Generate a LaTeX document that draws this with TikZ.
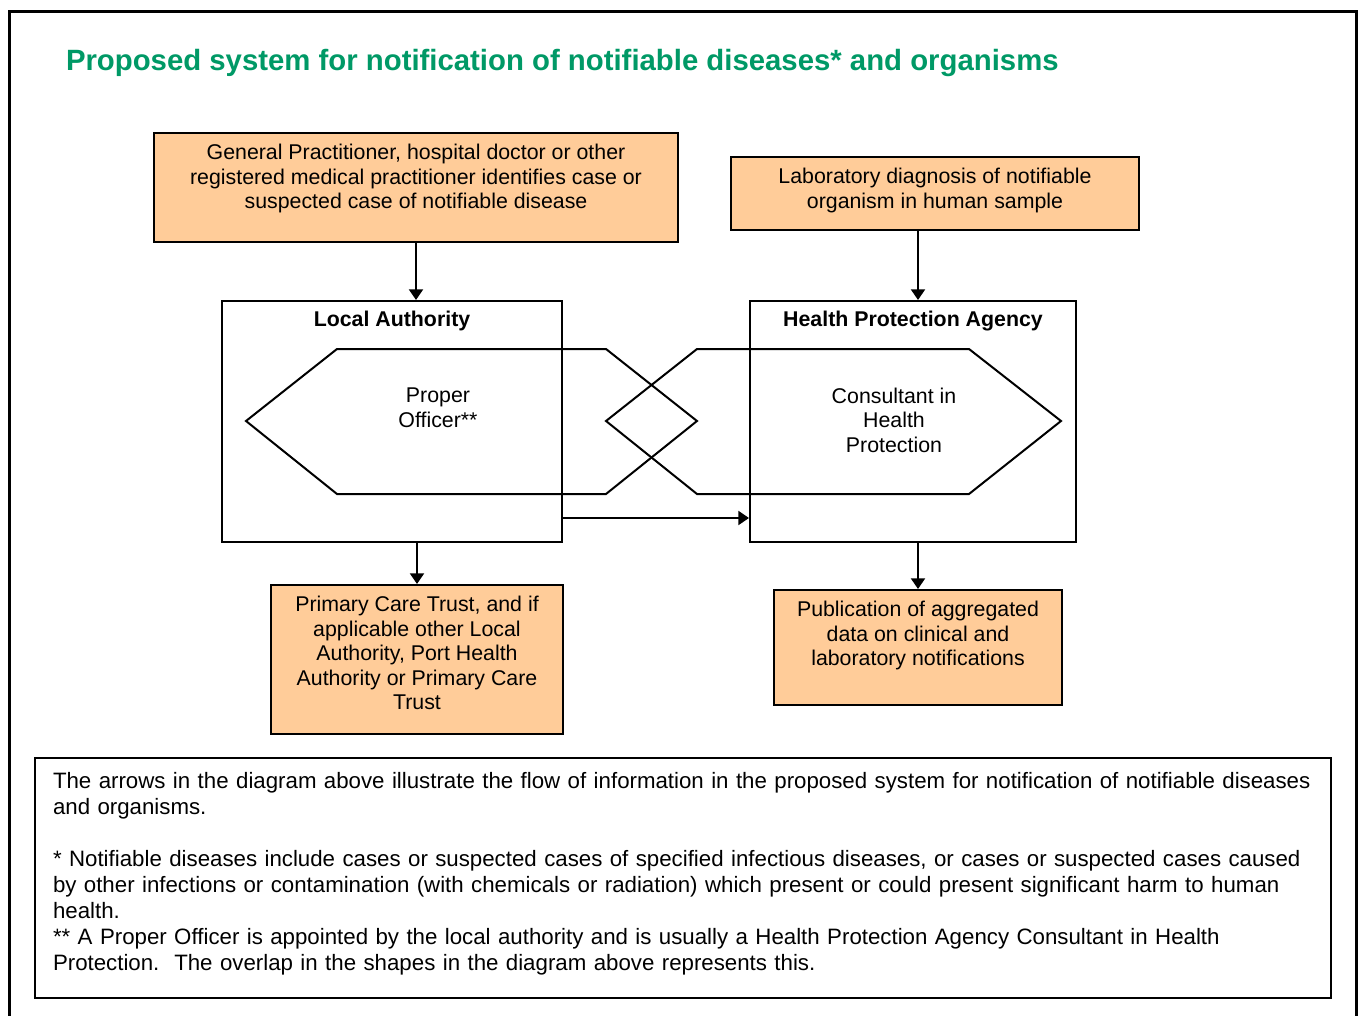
\documentclass[tikz,border=0pt]{standalone}
\usepackage{fontspec}
\setmainfont{Liberation Sans}
\usetikzlibrary{arrows.meta}
\definecolor{titlegreen}{RGB}{0,153,102}
\definecolor{peach}{RGB}{255,204,153}

\begin{document}
\begin{tikzpicture}[x=0.75pt, y=-0.75pt, line width=1.5pt,
    font=\fontsize{16}{18.4}\selectfont,
    box/.style = {draw, fill=peach, inner sep=0pt},
    agency/.style = {draw, inner sep=0pt},
    boxtext/.style = {anchor=north, align=center, inner sep=5pt, yshift=-3.5pt},
    head/.style = {font=\fontsize{16}{18.4}\selectfont\bfseries},
    flow/.style = {-{Triangle[length=8pt,width=10.5pt]}}]
    \useasboundingbox (0,0) rectangle (1360,1016);
    % outer frame
    \draw[line width=2.25pt] (9,1016) -- (9,12) -- (1356,12) -- (1356,1016);
    \node[anchor=west, inner sep=0pt, text=titlegreen, font=\fontsize{22}{26}\selectfont\bfseries] (title) at (65,63)
        {Proposed system for notification of notifiable diseases* and organisms};

    % sources
    \node[box, minimum width=393pt, minimum height=81.75pt,
          label={[boxtext]north:General Practitioner, hospital doctor or other\\registered medical practitioner identifies case or\\suspected case of notifiable disease}]
          (gp) at (416,187.5) {};
    \node[box, minimum width=306pt, minimum height=54.75pt,
          label={[boxtext]north:Laboratory diagnosis of notifiable\\organism in human sample}]
          (lab) at (935,193.5) {};

    % agencies
    \node[agency, minimum width=255pt, minimum height=180.75pt] (la) at (392,421.5) {};
    \node[agency, minimum width=244.5pt, minimum height=180.75pt] (hpa) at (913,421.5) {};
    \node[head] (latitle) at (392,321) {Local Authority};
    \node[head] (hpatitle) at (913,321) {Health Protection Agency};

    % overlapping shapes
    \draw (246,421) -- (337,349) -- (606,349) -- (697,421) -- (606,494) -- (337,494) -- cycle;
    \draw (606,421) -- (697,349) -- (969,349) -- (1061,421) -- (969,494) -- (697,494) -- cycle;
    \node[align=center] (po) at (438,408) {Proper\\Officer**};
    \node[align=center] (cihp) at (894,420) {Consultant in\\Health\\Protection};

    % outputs
    \node[box, minimum width=219pt, minimum height=111.75pt,
          label={[boxtext]north:Primary Care Trust, and if\\applicable other Local\\Authority, Port Health\\Authority or Primary Care\\Trust}]
          (pct) at (417,659.5) {};
    \node[box, minimum width=216pt, minimum height=86.25pt,
          label={[boxtext]north:Publication of aggregated\\data on clinical and\\laboratory notifications}]
          (pub) at (918,647.5) {};

    \draw[flow] (gp.south) -- (gp.south |- la.north);
    \draw[flow] (lab.south -| pub) -- (hpa.north -| pub);
    \draw[flow] ([yshift=18.75pt]la.south east) -- ([yshift=18.75pt]hpa.south west);
    \draw[flow] (la.south -| pct) -- (pct.north);
    \draw[flow] (hpa.south -| pub) -- (pub.north);

    % notes
    \node[draw, line width=1.2pt, minimum width=972pt, minimum height=180pt, inner sep=0pt] (notes) at (683,878) {};
    \node[anchor=north west, align=left, text width=975pt, inner sep=0pt,
          font=\fontsize{16.7}{19.5}\selectfont] (notetext) at (52,771)
        {The arrows in the diagram above illustrate the flow of information in the proposed system for notification of notifiable diseases\\
         and organisms.\\[19.5pt]
         * Notifiable diseases include cases or suspected cases of specified infectious diseases, or cases or suspected cases caused\\
         by other infections or contamination (with chemicals or radiation) which present or could present significant harm to human\\
         health.\\{}
         ** A Proper Officer is appointed by the local authority and is usually a Health Protection Agency Consultant in Health\\
         Protection.\ \ The overlap in the shapes in the diagram above represents this.};
\end{tikzpicture}
\end{document}
